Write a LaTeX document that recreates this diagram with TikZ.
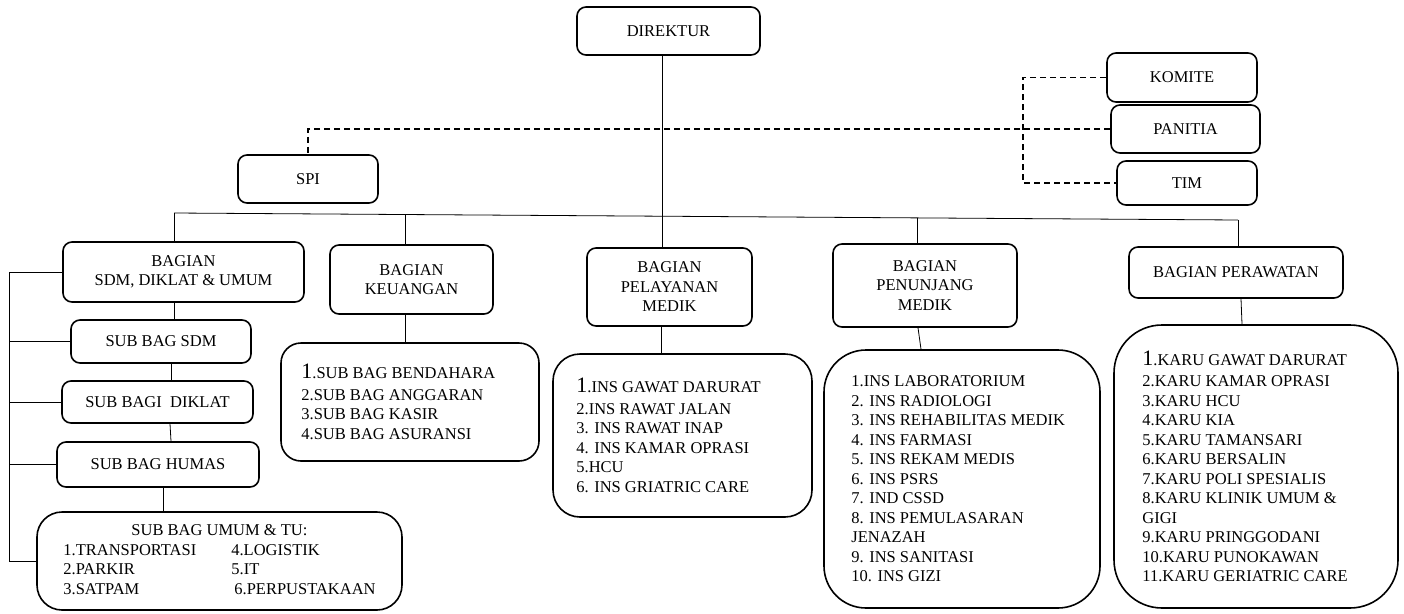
\documentclass[tikz,border=0pt]{standalone}
\usepackage{fontspec}
\usetikzlibrary{calc}
\setmainfont{Liberation Serif}
\newcommand\BigOne{{\fontsize{22}{19.5}\selectfont 1}}
\begin{document}
\begin{tikzpicture}[x=1pt,y=-1pt,
  box/.style={draw, line width=1.6pt, rounded corners=9pt, inner sep=0pt, align=center,
    font=\fontsize{16.5}{19.5}\selectfont},
  listbox/.style={draw, line width=1.6pt, inner sep=0pt},
  listtext/.style={inner sep=0pt, align=left, anchor=west, font=\fontsize{16.5}{19.5}\selectfont},
  link/.style={line width=0.8pt},
  dlink/.style={line width=1.2pt, dash pattern=on 6pt off 4pt}]
\useasboundingbox (0,0) rectangle (1404,613);

% top level
\node[box, minimum width=183pt, minimum height=48pt] (direktur) at (668.5,31) {DIREKTUR};
\node[box, minimum width=150pt, minimum height=49pt] (komite) at (1182,77.5) {KOMITE};
\node[box, minimum width=149pt, minimum height=48pt] (panitia) at (1185.5,129) {PANITIA};
\node[box, minimum width=140pt, minimum height=44pt] (tim) at (1187,183) {TIM};
\node[box, minimum width=140pt, minimum height=48pt] (spi) at (308,179) {SPI};

% bagian
\node[box, minimum width=241pt, minimum height=60pt] (sdm) at (183.5,272) {BAGIAN\\SDM, DIKLAT \& UMUM};
\node[box, minimum width=163pt, minimum height=69pt] (keu) at (411.5,279.5) {BAGIAN\\KEUANGAN};
\node[box, minimum width=165pt, minimum height=78pt] (pel) at (669.5,287) {BAGIAN\\PELAYANAN\\MEDIK};
\node[box, minimum width=184pt, minimum height=83pt] (pen) at (925,285.5) {BAGIAN\\PENUNJANG\\MEDIK};
\node[box, minimum width=214pt, minimum height=51pt] (per) at (1236,272.5) {BAGIAN PERAWATAN};

% sdm column
\node[box, minimum width=180pt, minimum height=43pt] (subsdm) at (161,341.5) {SUB BAG SDM};
\node[box, minimum width=191pt, minimum height=42pt] (diklat) at (157.5,402) {SUB BAGI~ DIKLAT};
\node[box, minimum width=202pt, minimum height=45pt] (humas) at (158,464.5) {SUB BAG HUMAS};
\node[box, rounded corners=25pt, minimum width=365pt, minimum height=98pt] (umum) at (219.5,561)
  {\begin{tabular}{@{}l@{}}\multicolumn{1}{@{}c@{}}{SUB BAG UMUM \& TU:}\\
   \makebox[168pt][l]{1.TRANSPORTASI}4.LOGISTIK\\
   \makebox[168pt][l]{2.PARKIR}5.IT\\
   \makebox[168pt][l]{3.SATPAM}\hspace{3pt}6.PERPUSTAKAAN\end{tabular}};

% list boxes
\node[listbox, rounded corners=20pt, minimum width=258pt, minimum height=118pt] (keulist) at (410,402) {};
\node[listtext] (keutxt) at ([xshift=21pt]keulist.west)
  {\BigOne.SUB BAG BENDAHARA\\[2pt] 2.SUB BAG ANGGARAN\\ 3.SUB BAG KASIR\\ 4.SUB BAG ASURANSI};
\node[listbox, rounded corners=27pt, minimum width=259pt, minimum height=163pt] (pellist) at (682.5,435.5) {};
\node[listtext] (peltxt) at ([xshift=24pt]pellist.west)
  {\BigOne.INS GAWAT DARURAT\\[2pt] 2.INS RAWAT JALAN\\ 3. INS RAWAT INAP\\ 4. INS KAMAR OPRASI\\ 5.HCU\\ 6. INS GRIATRIC CARE};
\node[listbox, rounded corners=42pt, minimum width=276pt, minimum height=258pt] (penlist) at (962,479) {};
\node[listtext] (pentxt) at ([xshift=28pt]penlist.west)
  {1.INS LABORATORIUM\\ 2. INS RADIOLOGI\\ 3. INS REHABILITAS MEDIK\\ 4. INS FARMASI\\ 5. INS REKAM MEDIS\\ 6. INS PSRS\\ 7. IND CSSD\\ 8. INS PEMULASARAN\\ JENAZAH\\ 9. INS SANITASI\\ 10. INS GIZI};
\node[listbox, rounded corners=48pt, minimum width=284pt, minimum height=283pt] (perlist) at (1256,466.5) {};
\node[listtext] (pertxt) at ([xshift=29pt]perlist.west)
  {\BigOne.KARU GAWAT DARURAT\\[2pt] 2.KARU KAMAR OPRASI\\ 3.KARU HCU\\ 4.KARU KIA\\ 5.KARU TAMANSARI\\ 6.KARU BERSALIN\\ 7.KARU POLI SPESIALIS\\ 8.KARU KLINIK UMUM \&\\ GIGI\\ 9.KARU PRINGGODANI\\ 10.KARU PUNOKAWAN\\ 11.KARU GERIATRIC CARE};

% bus (slightly sloping, as in the original) and drops
\coordinate (busL) at (174,213);
\coordinate (busR) at (1238,220);
\coordinate (busK) at ($(busL)!0.2171!(busR)$);
\coordinate (busP) at ($(busL)!0.6983!(busR)$);
\draw[link] (busL) -- (busR);
\draw[link] (busL) -- (busL |- sdm.north);
\draw[link] (busK) -- (busK |- keu.north);
\draw[link] (busP) -- (busP |- pen.north);
\draw[link] (busR) -- (busR |- per.north);
\draw[link] ([xshift=-6.5pt]direktur.south) -- ([xshift=-6.5pt]direktur.south |- pel.north);

% bagian to lists
\draw[link] ([xshift=-6.5pt]keu.south) -- ([xshift=-6.5pt]keu.south |- keulist.north);
\draw[link] ([xshift=-8.5pt]pel.south) -- ([xshift=-8.5pt]pel.south |- pellist.north);
\draw[link] ([xshift=-7pt]pen.south) -- ([xshift=-41pt]penlist.north);
\draw[link] ([xshift=5pt]per.south) -- ([xshift=-14pt]perlist.north);

% sdm chain
\draw[link] ([xshift=-9.5pt]sdm.south) -- ([xshift=-9.5pt]sdm.south |- subsdm.north);
\draw[link] ([xshift=10pt]subsdm.south) -- ([xshift=10pt]subsdm.south |- diklat.north);
\draw[link] ([xshift=12.5pt]diklat.south) -- ([xshift=13pt]humas.north);
\draw[link] ([xshift=5pt]humas.south) -- ([xshift=5pt]humas.south |- umum.north);

% left bracket
\coordinate (br) at (9,0);
\draw[link] (sdm.west -| br) -- (umum.west -| br);
\foreach \n in {sdm,subsdm,diklat,humas,umum} \draw[link] (\n.west -| br) -- (\n.west);

% dashed staff lines
\coordinate (dv) at (1023,0);
\draw[dlink] (komite.west) -- (komite.west -| dv) -- (tim.west -| dv) -- (tim.west);
\draw[dlink] (panitia.west) -- (panitia.west -| spi.north) -- (spi.north);
\end{tikzpicture}
\end{document}
